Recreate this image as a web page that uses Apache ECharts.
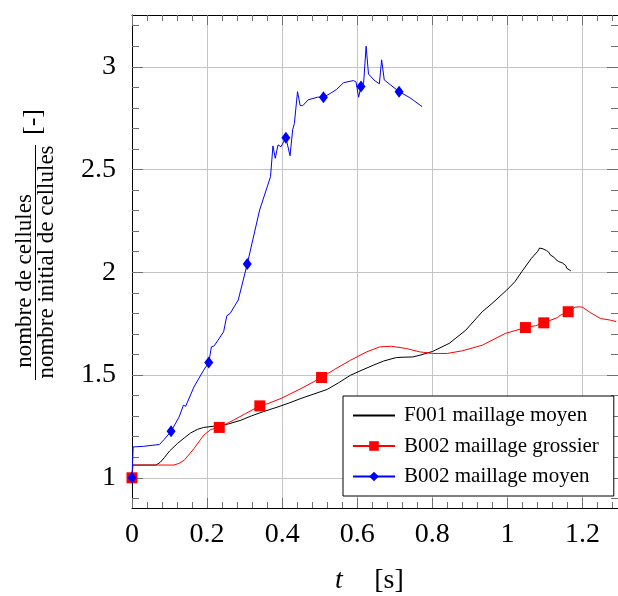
<!DOCTYPE html>
<html>
<head>
<meta charset="utf-8">
<script src="https://cdn.jsdelivr.net/npm/echarts@6/dist/echarts.min.js"></script>
<style>
html,body{margin:0;padding:0;background:#fff;}
#chart{width:618px;height:596px;}
</style>
</head>
<body>
<div id="chart"></div>
<script>
// ---------- data ----------
var seriesNames = ['F001 maillage moyen', 'B002 maillage grossier', 'B002 maillage moyen'];

var f001T = [0, 0.002, 0.064, 0.075, 0.086, 0.10, 0.121, 0.14, 0.156, 0.175, 0.191, 0.218, 0.24, 0.257, 0.29, 0.318, 0.35, 0.389, 0.42, 0.45, 0.52, 0.55, 0.582, 0.61, 0.643, 0.67, 0.704, 0.725, 0.748, 0.77, 0.801, 0.845, 0.889, 0.933, 0.959, 0.998, 1.02, 1.038, 1.064, 1.08, 1.086, 1.091, 1.095, 1.099, 1.104, 1.11, 1.114, 1.117, 1.125, 1.129, 1.132, 1.137, 1.14, 1.147, 1.152, 1.156, 1.158, 1.163, 1.169];
var f001V = [1, 1.062, 1.062, 1.075, 1.098, 1.13, 1.167, 1.195, 1.218, 1.236, 1.245, 1.251, 1.256, 1.262, 1.28, 1.301, 1.322, 1.345, 1.365, 1.386, 1.43, 1.462, 1.499, 1.522, 1.548, 1.568, 1.585, 1.587, 1.588, 1.598, 1.615, 1.654, 1.718, 1.808, 1.848, 1.913, 1.954, 2.002, 2.068, 2.10, 2.118, 2.124, 2.114, 2.12, 2.106, 2.098, 2.085, 2.078, 2.072, 2.062, 2.066, 2.052, 2.058, 2.045, 2.038, 2.032, 2.02, 2.016, 2.007];

var b002gT = [0, 0.002, 0.112, 0.125, 0.139, 0.165, 0.191, 0.21, 0.2325, 0.27, 0.30, 0.3405, 0.362, 0.397, 0.45, 0.505, 0.54, 0.582, 0.6255, 0.66, 0.691, 0.731, 0.766, 0.801, 0.84, 0.88, 0.933, 0.994, 1.048, 1.075, 1.097, 1.134, 1.14, 1.162, 1.18, 1.191, 1.195, 1.2, 1.222, 1.248, 1.275, 1.29];
var b002gV = [1, 1.062, 1.062, 1.07, 1.085, 1.142, 1.207, 1.235, 1.245, 1.28, 1.31, 1.35, 1.361, 1.386, 1.434, 1.488, 1.528, 1.572, 1.613, 1.637, 1.64, 1.629, 1.613, 1.605, 1.605, 1.618, 1.645, 1.702, 1.731, 1.74, 1.754, 1.78, 1.79, 1.808, 1.83, 1.832, 1.84, 1.83, 1.803, 1.775, 1.767, 1.76];
var b002gMarks = [0, 8, 11, 15, 28, 30, 33];

var b002mT = [0, 0.003, 0.03, 0.073, 0.085, 0.104, 0.1255, 0.137, 0.143, 0.165, 0.191, 0.2045, 0.2115, 0.219, 0.244, 0.2526, 0.2615, 0.283, 0.307, 0.34, 0.369, 0.3755, 0.3816, 0.389, 0.397, 0.41, 0.421, 0.428, 0.4326, 0.441, 0.448, 0.455, 0.469, 0.494, 0.51, 0.529, 0.545, 0.564, 0.5905, 0.597, 0.6037, 0.61, 0.617, 0.6237, 0.63, 0.645, 0.659, 0.665, 0.672, 0.69, 0.7115, 0.74, 0.773];
var b002mV = [1, 1.15, 1.153, 1.162, 1.185, 1.226, 1.296, 1.353, 1.348, 1.442, 1.524, 1.561, 1.637, 1.642, 1.71, 1.788, 1.80, 1.865, 2.04, 2.303, 2.465, 2.615, 2.555, 2.62, 2.611, 2.655, 2.567, 2.693, 2.725, 2.879, 2.811, 2.811, 2.839, 2.852, 2.852, 2.871, 2.89, 2.923, 2.933, 2.925, 2.852, 2.904, 2.92, 3.10, 2.965, 2.935, 2.917, 3.034, 2.936, 2.91, 2.879, 2.85, 2.806];
var b002mMarks = [0, 5, 11, 18, 25, 34, 41, 50];

var xTicks = [0, 0.2, 0.4, 0.6, 0.8, 1, 1.2];
var xMinor = [0.04, 0.08, 0.12, 0.16, 0.24, 0.28, 0.32, 0.36, 0.44, 0.48, 0.52, 0.56, 0.64, 0.68, 0.72, 0.76, 0.84, 0.88, 0.92, 0.96, 1.04, 1.08, 1.12, 1.16, 1.24, 1.28];
var yTicks = [1, 1.5, 2, 2.5, 3];
var yMinor = [0.9, 1.1, 1.2, 1.3, 1.4, 1.6, 1.7, 1.8, 1.9, 2.1, 2.2, 2.3, 2.4, 2.6, 2.7, 2.8, 2.9, 3.1, 3.2];

var X_MIN = 0, X_MAX = 1.2947, Y_MIN = 0.853, Y_MAX = 3.252;

// ---------- build ----------
function pairs(t, v) { return t.map(function (x, i) { return [x, v[i]]; }); }
var serif = 'Liberation Serif, Times New Roman, serif';
var tickColor = '#707070';

function mkX(pos, vals, len, labels, split, line) {
  return {
    type: 'value', position: pos, min: X_MIN, max: X_MAX,
    axisLine: { show: line, onZero: false, lineStyle: { color: '#000', width: 1 } },
    axisTick: { show: true, inside: true, length: len, customValues: vals, lineStyle: { color: tickColor, width: 1 } },
    axisLabel: { show: labels, customValues: vals, margin: 13, color: '#000', fontFamily: serif, fontSize: 28 },
    splitLine: { show: split, lineStyle: { color: '#c4c4c4', width: 1 } },
    minorTick: { show: false }
  };
}
function mkY(pos, vals, len, labels, split, line) {
  return {
    type: 'value', position: pos, min: Y_MIN, max: Y_MAX,
    axisLine: { show: line, onZero: false, lineStyle: { color: '#000', width: 1 } },
    axisTick: { show: true, inside: true, length: len, customValues: vals, lineStyle: { color: tickColor, width: 1 } },
    axisLabel: { show: labels, customValues: vals, margin: 16, color: '#000', fontFamily: serif, fontSize: 28 },
    splitLine: { show: split, lineStyle: { color: '#c4c4c4', width: 1 } },
    minorTick: { show: false }
  };
}

function sizeFn(marks, size) {
  return function (val, params) { return marks.indexOf(params.dataIndex) >= 0 ? size : 0; };
}

var option = {
  animation: false,
  backgroundColor: '#fff',
  grid: { left: 132, right: -6, top: 15, bottom: 88, containLabel: false },
  xAxis: [
    mkX('bottom', xTicks, 10, true, true, true),
    mkX('bottom', xMinor, 6, false, false, false),
    mkX('top', xTicks, 10, false, false, true),
    mkX('top', xMinor, 6, false, false, false)
  ],
  yAxis: [
    mkY('left', yTicks, 11, true, true, true),
    mkY('left', yMinor, 7, false, false, false),
    mkY('right', yTicks, 11, false, false, true),
    mkY('right', yMinor, 7, false, false, false)
  ],
  legend: {
    orient: 'vertical', left: 343, top: 396,
    padding: [9, 15, 9, 9],
    itemWidth: 42, itemHeight: 12, itemGap: 9.5,
    borderColor: '#000', borderWidth: 1, borderRadius: 0, backgroundColor: '#fff',
    textStyle: { fontFamily: serif, fontSize: 21, color: '#000', lineHeight: 21, padding: [0, 0, 0, 4] },
    data: [
      { name: seriesNames[0], itemStyle: { opacity: 0 } },
      { name: seriesNames[1] },
      { name: seriesNames[2] }
    ]
  },
  series: [
    {
      name: seriesNames[0], type: 'line', data: pairs(f001T, f001V),
      symbol: 'circle', symbolSize: 0, showSymbol: false,
      lineStyle: { color: '#000', width: 1 }, itemStyle: { color: '#000' }, z: 2
    },
    {
      name: seriesNames[1], type: 'line', data: pairs(b002gT, b002gV),
      symbol: 'rect', symbolSize: sizeFn(b002gMarks, 11), showSymbol: true,
      lineStyle: { color: '#ff0000', width: 1 }, itemStyle: { color: '#ff0000', borderWidth: 0 }, z: 3
    },
    {
      name: seriesNames[2], type: 'line', data: pairs(b002mT, b002mV),
      symbol: 'diamond', symbolSize: sizeFn(b002mMarks, [9, 12]), showSymbol: true,
      lineStyle: { color: '#0000ff', width: 1 }, itemStyle: { color: '#0000ff', borderWidth: 0 }, z: 4
    }
  ],
  graphic: [
    { type: 'text', x: 25, y: 281, rotation: Math.PI / 2,
      style: { text: 'nombre de cellules', fontFamily: serif, fontSize: 23, fill: '#000', align: 'center', verticalAlign: 'middle' } },
    { type: 'line', shape: { x1: 35.5, y1: 145, x2: 35.5, y2: 380 }, style: { stroke: '#000', lineWidth: 1 } },
    { type: 'text', x: 47, y: 262, rotation: Math.PI / 2,
      style: { text: 'nombre initial de cellules', fontFamily: serif, fontSize: 23, fill: '#000', align: 'center', verticalAlign: 'middle' } },
    { type: 'text', x: 33, y: 122, rotation: Math.PI / 2,
      style: { text: '[-]', fontFamily: serif, fontSize: 26, fill: '#000', align: 'center', verticalAlign: 'middle' } },
    { type: 'text', x: 339, y: 581,
      style: { text: 't', fontFamily: serif, fontSize: 28, fontStyle: 'italic', fill: '#000', align: 'center', verticalAlign: 'middle' } },
    { type: 'text', x: 389, y: 581,
      style: { text: '[s]', fontFamily: serif, fontSize: 28, fill: '#000', align: 'center', verticalAlign: 'middle' } }
  ]
};

var chart = echarts.init(document.getElementById('chart'), null, { renderer: 'canvas' });
chart.setOption(option);
</script>
</body>
</html>
